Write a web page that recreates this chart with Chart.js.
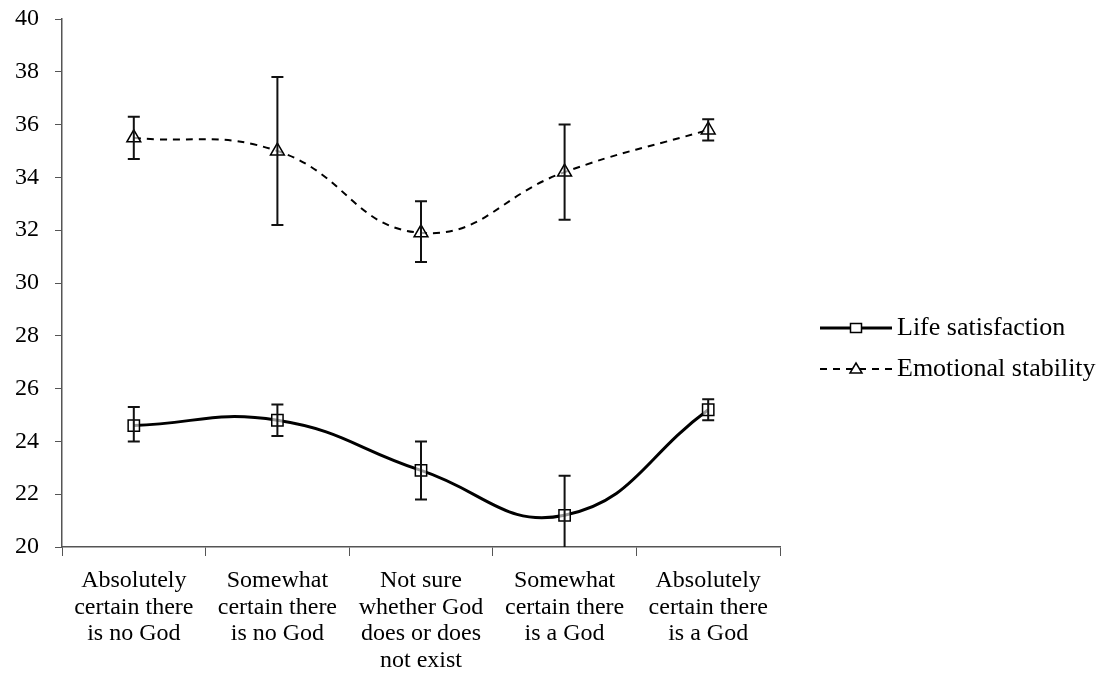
<!DOCTYPE html>
<html>
<head>
<meta charset="utf-8">
<script src="https://cdn.jsdelivr.net/npm/chart.js@4.4.0/dist/chart.umd.min.js"></script>
<style>
  html, body { margin: 0; padding: 0; background: #fff; }
  #wrap { width: 1114px; height: 673px; position: relative; }
</style>
</head>
<body>
<div id="wrap"><canvas id="myChart"></canvas></div>
<script>
'use strict';
//--------------------DATA

const categories = [
  ['Absolutely', 'certain there', 'is no God'],
  ['Somewhat', 'certain there', 'is no God'],
  ['Not sure', 'whether God', 'does or does', 'not exist'],
  ['Somewhat', 'certain there', 'is a God'],
  ['Absolutely', 'certain there', 'is a God'],
];

// Life satisfaction (mean, lower and upper error)
const lifeValues = [24.6, 24.8, 22.9, 21.2, 25.2];
const lifeLow = [24.0, 24.2, 21.8, 19.7, 24.8];
const lifeHigh = [25.3, 25.4, 24.0, 22.7, 25.6];

// Emotional stability (mean, lower and upper error)
const emoValues = [35.5, 35.0, 31.9, 34.2, 35.8];
const emoLow = [34.7, 32.2, 30.8, 32.4, 35.4];
const emoHigh = [36.3, 37.8, 33.1, 36.0, 36.2];

const yTicks = [20, 22, 24, 26, 28, 30, 32, 34, 36, 38, 40];

const FONT = "'Liberation Serif', 'Times New Roman', serif";

//--------------------PLUGINS

// draws the vertical error bars with caps
const errorBars = {
  id: 'errorBars',
  afterDatasetsDraw(chart) {
    const ctx = chart.ctx;
    const y = chart.scales.y;
    const area = chart.chartArea;
    ctx.save();
    ctx.beginPath();
    ctx.rect(area.left, area.top - 5, area.right - area.left, area.bottom - area.top + 5);
    ctx.clip();
    ctx.strokeStyle = '#111';
    ctx.lineWidth = 2;
    ctx.setLineDash([]);
    chart.data.datasets.forEach((ds, i) => {
      const meta = chart.getDatasetMeta(i);
      meta.data.forEach((pt, j) => {
        const top = y.getPixelForValue(ds.errHigh[j]);
        const bot = y.getPixelForValue(ds.errLow[j]);
        ctx.beginPath();
        ctx.moveTo(pt.x, top);
        ctx.lineTo(pt.x, bot);
        ctx.moveTo(pt.x - 6, top);
        ctx.lineTo(pt.x + 6, top);
        ctx.moveTo(pt.x - 6, bot);
        ctx.lineTo(pt.x + 6, bot);
        ctx.stroke();
      });
    });
    ctx.restore();
  }
};

// legend on the right: line sample with marker and text
const sideLegend = {
  id: 'sideLegend',
  afterDraw(chart) {
    const ctx = chart.ctx;
    const area = chart.chartArea;
    const x0 = area.right + 40;
    const x1 = x0 + 72;
    const rows = [area.top + 309, area.top + 350];
    ctx.save();
    chart.data.datasets.forEach((ds, i) => {
      const yy = rows[i];
      ctx.strokeStyle = '#000';
      ctx.lineWidth = ds.borderWidth;
      ctx.setLineDash(ds.borderDash || []);
      ctx.beginPath();
      ctx.moveTo(x0, yy);
      ctx.lineTo(x1, yy);
      ctx.stroke();
      ctx.setLineDash([]);
      ctx.lineWidth = 1.5;
      ctx.fillStyle = '#fff';
      const cx = (x0 + x1) / 2;
      ctx.beginPath();
      if (ds.pointStyle === 'rect') {
        ctx.rect(cx - 5.5, yy - 4.5, 11, 9);
      } else {
        ctx.moveTo(cx, yy - 6);
        ctx.lineTo(cx + 6, yy + 4);
        ctx.lineTo(cx - 6, yy + 4);
        ctx.closePath();
      }
      ctx.fill();
      ctx.stroke();
      ctx.fillStyle = '#000';
      ctx.font = '26px ' + FONT;
      ctx.textBaseline = 'middle';
      ctx.textAlign = 'left';
      ctx.fillText(ds.label, x1 + 5, yy);
    });
    ctx.restore();
  }
};

//--------------------CHART

const config = {
  type: 'line',
  data: {
    labels: categories,
    datasets: [
      {
        label: 'Life satisfaction',
        data: lifeValues,
        errLow: lifeLow,
        errHigh: lifeHigh,
        borderColor: '#000',
        borderWidth: 3,
        tension: 0.45,
        pointStyle: 'rect',
        pointRadius: 8,
        pointBorderWidth: 1.5,
        pointBackgroundColor: 'rgba(255,255,255,0.6)',
        pointBorderColor: '#000',
      },
      {
        label: 'Emotional stability',
        data: emoValues,
        errLow: emoLow,
        errHigh: emoHigh,
        borderColor: '#000',
        borderWidth: 2,
        borderDash: [7, 6],
        tension: 0.45,
        pointStyle: 'triangle',
        pointRadius: 8,
        pointBorderWidth: 1.5,
        pointBackgroundColor: 'rgba(255,255,255,0.6)',
        pointBorderColor: '#000',
      },
    ],
  },
  options: {
    responsive: false,
    animation: false,
    devicePixelRatio: 1,
    layout: { padding: { top: 19, right: 334, left: 0, bottom: 0 } },
    plugins: {
      legend: { display: false },
      tooltip: { enabled: false },
    },
    scales: {
      x: {
        offset: true,
        grid: {
          offset: true,
          drawOnChartArea: false,
          drawTicks: true,
          tickLength: 9,
          color: '#555',
        },
        border: { display: true, color: '#555', width: 1.5 },
        ticks: {
          color: '#000',
          font: { family: FONT, size: 24, lineHeight: 1.1 },
          padding: 12,
          maxRotation: 0,
          autoSkip: false,
        },
        afterFit(scale) { scale.height = 126; },
      },
      y: {
        min: 20,
        max: 40,
        afterBuildTicks(scale) { scale.ticks = yTicks.map(v => ({ value: v })); },
        grid: {
          drawOnChartArea: false,
          drawTicks: true,
          tickLength: 7,
          color: '#555',
        },
        border: { display: true, color: '#555', width: 1.5 },
        ticks: {
          color: '#000',
          font: { family: FONT, size: 24 },
          padding: 16,
        },
        afterFit(scale) {
          scale.width = 62;
          scale.paddingTop = 0;
          scale.paddingBottom = 0;
        },
      },
    },
  },
  plugins: [errorBars, sideLegend],
};

const canvas = document.getElementById('myChart');
canvas.width = 1114;
canvas.height = 673;
const myChart = new Chart(canvas, config);
</script>
</body>
</html>
